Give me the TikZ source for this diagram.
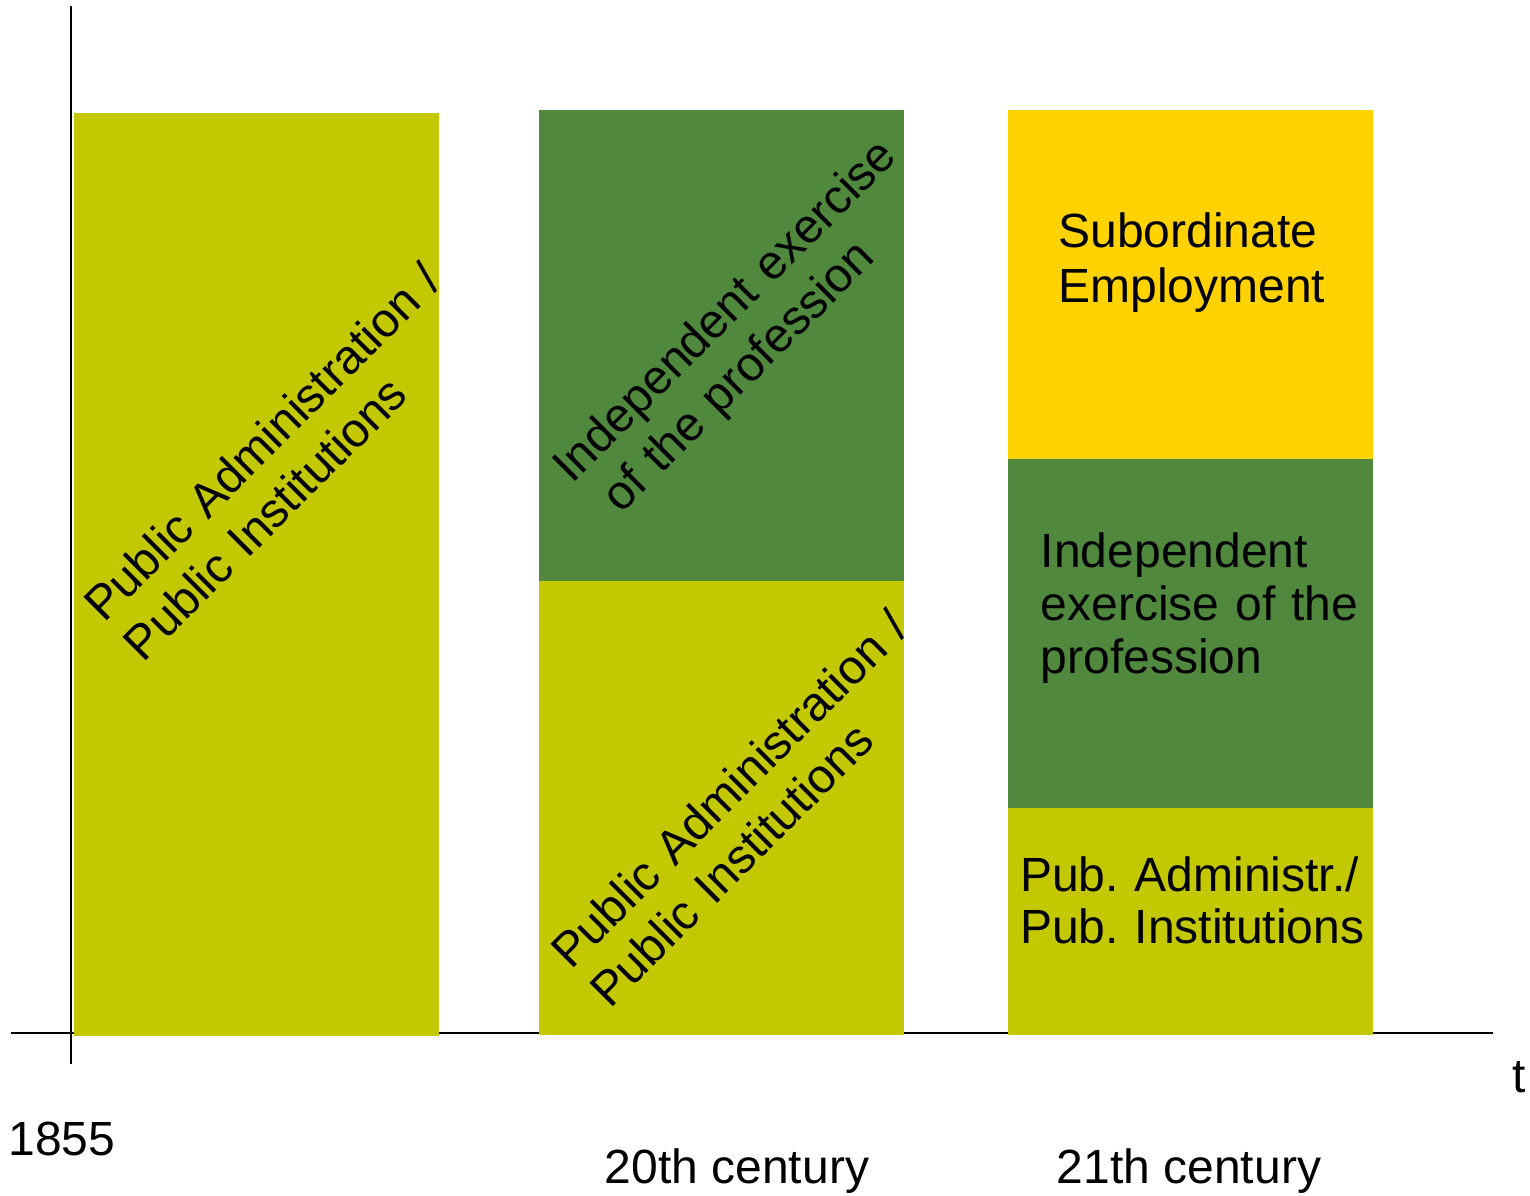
\documentclass[tikz,border=0pt]{standalone}
\usepackage{fontspec}
\setmainfont{Liberation Sans}
\frenchspacing
\definecolor{olive}{RGB}{196,200,0}
\definecolor{leaf}{RGB}{80,136,61}
\definecolor{sun}{RGB}{255,210,0}
\begin{document}
\begin{tikzpicture}[x=0.5pt,y=-0.5pt,
  lbl/.style={inner sep=0pt, anchor=base west, align=left, text width=500pt,
    font=\fontsize{24}{28}\selectfont},
  plain/.style={inner sep=0pt, anchor=base west, font=\fontsize{24}{28}\selectfont},
  axis/.style={line width=1pt, black}]
\useasboundingbox (0,0) rectangle (1530,1195);
% axes
\coordinate (ytop) at (71,6);
\coordinate (ybot) at (71,1064);
\coordinate (xl) at (11,1033);
\coordinate (xr) at (1493,1033);
\draw[axis] (ytop) -- (ybot);
\draw[axis] (xl) -- (xr);
% bars
\fill[olive] (74,113) rectangle (439,1036);
\fill[leaf] (539,110) rectangle (904,581);
\fill[olive] (539,581) rectangle (904,1035);
\fill[sun] (1008,110) rectangle (1373,459);
\fill[leaf] (1008,459) rectangle (1373,808);
\fill[olive] (1008,808) rectangle (1373,1035);
% texts
\node[lbl, rotate=45] (pa1) at (104,624) {Public Administration /\\Public Institutions};
\node[lbl, rotate=45] (ie2) at (572,485) {Independent exercise\\\hspace*{7pt}of the profession};
\node[lbl, rotate=45, font=\fontsize{24}{27.6}\selectfont] (pa2) at (571,971) {Public Administration /\\Public Institutions};
\node[lbl, font=\fontsize{24}{27.8}\selectfont] (se3) at (1058,247) {Subordinate\\Employment};
\node[lbl, font=\fontsize{24}{26.7}\selectfont] (ie3) at (1040.5,567) {Independent\\exercise of the\\profession};
\node[lbl, font=\fontsize{24}{25.8}\selectfont] (pa3) at (1019.6,891.7) {Pub. Administr./\\Pub. Institutions};
\node[plain] (y1855) at (8,1155) {1855};
\node[plain] (c20) at (604.5,1183) {20th century};
\node[plain] (c21) at (1056.5,1183) {21th century};
\node[plain] (tlab) at (1512,1092) {t};
\end{tikzpicture}
\end{document}
